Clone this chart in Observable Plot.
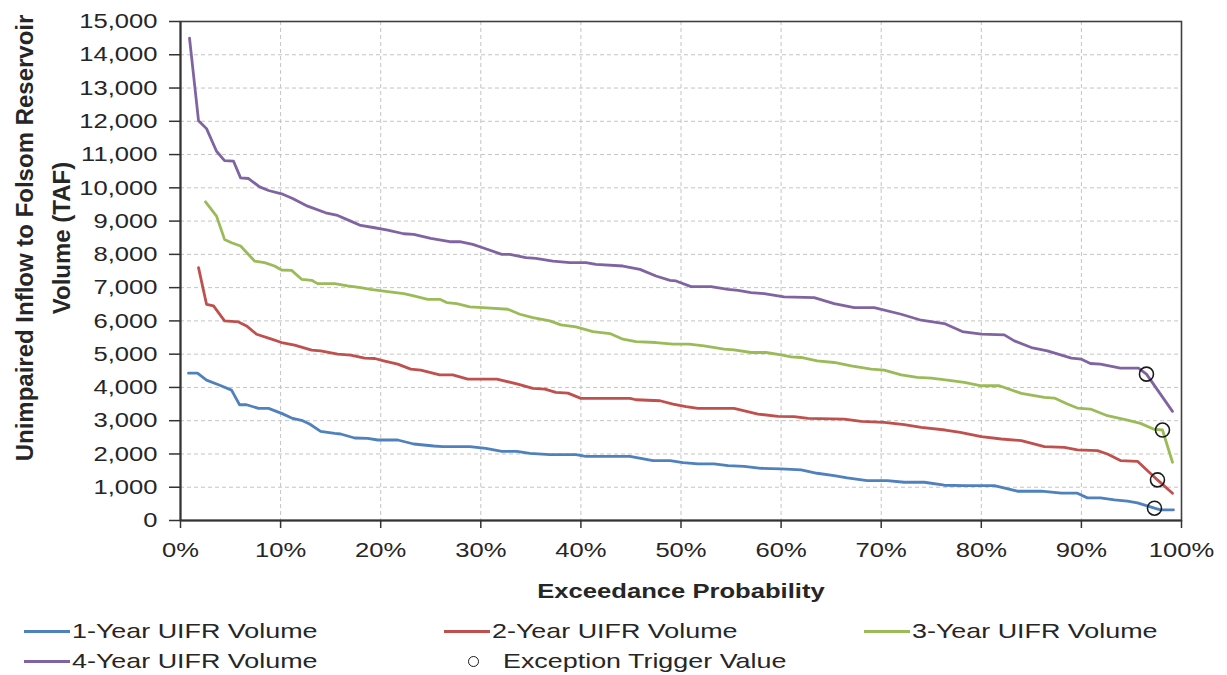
<!DOCTYPE html>
<html>
<head>
<meta charset="utf-8">
<script src="https://cdn.jsdelivr.net/npm/d3@7"></script>
<script src="https://cdn.jsdelivr.net/npm/@observablehq/plot@0.6"></script>
<style>
  body { margin: 0; background: #fff; font-family: "Liberation Sans", Arial, sans-serif; color: #262626; }
  #chart { position: relative; width: 1227px; height: 675px; }
  .legend-item { position: absolute; display: flex; align-items: center; height: 24px; white-space: nowrap; }
  .legend-item .sw { display: inline-block; width: 46px; height: 3px; margin-right: 2px; }
  .legend-item .ring { display: inline-block; width: 9px; height: 9px; border: 1.4px solid #1a1a1a; border-radius: 50%; margin-right: 24px; }
  .legend-item .lab { display: inline-block; font-size: 21px; line-height: 24px; transform: scaleX(1.28); transform-origin: left center; }
</style>
</head>
<body>
<div id="chart"></div>
<script>
// Series labels and colours
const seriesNames = ["1-Year UIFR Volume", "2-Year UIFR Volume", "3-Year UIFR Volume", "4-Year UIFR Volume"];
const seriesColors = ["#4F81BD", "#C0504D", "#9BBB59", "#8064A2"];
const triggerName = "Exception Trigger Value";

// Exceedance probability (%) and volume (TAF) for each series
const oneYearP = [0.8, 1.7, 2.6, 3.8, 5.1, 5.9, 6.6, 7.8, 8.8, 10.1, 11.1, 12.2, 12.9, 14.0, 15.4, 16.0, 17.4, 18.7, 19.7, 21.7, 23.3, 25.3, 26.2, 28.9, 30.5, 32.1, 33.6, 34.9, 36.9, 39.5, 40.5, 44.9, 47.2, 48.9, 50.2, 51.7, 53.3, 54.7, 56.3, 58.0, 60.0, 62.0, 63.6, 65.3, 66.6, 68.6, 70.6, 72.3, 74.3, 76.3, 78.3, 81.3, 83.6, 86.0, 88.0, 89.6, 90.6, 91.9, 93.3, 94.6, 95.6, 97.3, 97.9, 99.2];
const oneYearV = [4430, 4430, 4220, 4080, 3920, 3480, 3480, 3370, 3370, 3220, 3080, 3000, 2900, 2680, 2620, 2600, 2480, 2470, 2420, 2420, 2300, 2240, 2220, 2220, 2170, 2080, 2080, 2020, 1980, 1980, 1930, 1930, 1800, 1800, 1740, 1700, 1700, 1650, 1630, 1570, 1550, 1520, 1420, 1350, 1280, 1200, 1200, 1150, 1150, 1060, 1050, 1050, 880, 880, 820, 820, 680, 680, 620, 580, 530, 370, 320, 320];

const twoYearP = [1.8, 2.6, 3.3, 4.4, 5.8, 6.6, 7.6, 9.1, 10.1, 11.4, 13.1, 14.0, 15.7, 17.0, 18.4, 19.4, 20.3, 21.7, 23.0, 24.0, 25.9, 27.2, 28.7, 31.6, 33.7, 35.2, 36.4, 37.5, 38.7, 40.0, 44.9, 45.5, 47.9, 49.2, 50.5, 51.7, 55.3, 57.7, 59.7, 61.3, 62.7, 66.3, 68.0, 70.3, 72.3, 74.0, 76.4, 77.9, 80.0, 82.0, 84.0, 86.3, 88.3, 89.6, 91.6, 92.6, 93.9, 95.6, 97.6, 99.1];
const twoYearV = [7600, 6500, 6450, 6000, 5970, 5850, 5600, 5450, 5350, 5270, 5120, 5100, 5000, 4970, 4880, 4870, 4800, 4700, 4550, 4520, 4380, 4380, 4250, 4250, 4100, 3970, 3950, 3850, 3830, 3670, 3670, 3630, 3600, 3500, 3420, 3370, 3370, 3200, 3130, 3120, 3070, 3050, 2980, 2950, 2880, 2800, 2720, 2650, 2520, 2450, 2400, 2220, 2200, 2120, 2100, 2000, 1800, 1780, 1220, 820];

const threeYearP = [2.5, 3.6, 4.4, 5.1, 6.0, 7.4, 8.4, 9.4, 10.1, 11.1, 12.1, 13.1, 13.7, 15.4, 16.7, 18.0, 19.0, 20.7, 22.3, 23.3, 24.7, 25.9, 26.6, 27.6, 28.9, 30.2, 32.7, 33.9, 35.2, 36.9, 38.0, 39.5, 41.2, 42.9, 44.2, 45.5, 47.5, 49.2, 50.8, 52.3, 54.3, 55.3, 57.0, 58.5, 60.0, 61.0, 62.0, 63.6, 65.3, 67.0, 69.0, 70.3, 72.0, 73.6, 75.0, 76.6, 78.3, 80.0, 81.8, 84.0, 86.3, 87.3, 88.6, 89.6, 90.9, 92.6, 94.6, 95.9, 97.2, 98.1, 99.1];
const threeYearV = [9580, 9150, 8450, 8350, 8250, 7800, 7750, 7650, 7530, 7520, 7250, 7220, 7120, 7120, 7050, 7000, 6950, 6880, 6820, 6750, 6650, 6650, 6550, 6520, 6420, 6400, 6350, 6200, 6100, 6000, 5880, 5820, 5680, 5620, 5450, 5380, 5350, 5300, 5300, 5250, 5150, 5130, 5050, 5050, 4980, 4920, 4900, 4800, 4750, 4650, 4550, 4520, 4380, 4300, 4280, 4220, 4150, 4050, 4050, 3820, 3700, 3680, 3500, 3380, 3350, 3150, 3020, 2920, 2750, 2720, 1750];

const fourYearP = [0.9, 1.8, 2.6, 3.6, 4.4, 5.3, 6.0, 6.8, 7.9, 8.8, 10.1, 11.2, 12.7, 14.5, 15.7, 17.0, 18.0, 19.4, 20.7, 22.3, 23.3, 25.0, 26.9, 27.9, 29.2, 30.2, 32.1, 32.9, 34.5, 35.5, 37.2, 38.9, 40.5, 41.5, 44.2, 45.9, 47.5, 48.9, 49.5, 51.0, 53.0, 54.7, 55.7, 57.0, 58.3, 60.3, 63.3, 65.3, 67.3, 69.3, 72.0, 74.0, 76.3, 78.1, 80.0, 82.3, 83.3, 85.0, 86.6, 89.0, 90.0, 90.9, 91.9, 93.9, 95.7, 96.5, 99.1];
const fourYearV = [14500, 12020, 11780, 11100, 10820, 10800, 10300, 10280, 10030, 9920, 9820, 9680, 9450, 9250, 9170, 9000, 8870, 8800, 8730, 8620, 8600, 8480, 8380, 8380, 8300, 8200, 8000, 8000, 7900, 7880, 7800, 7750, 7750, 7700, 7650, 7550, 7350, 7220, 7200, 7030, 7030, 6950, 6920, 6850, 6820, 6720, 6700, 6520, 6400, 6400, 6200, 6020, 5920, 5680, 5600, 5580, 5400, 5200, 5100, 4880, 4850, 4720, 4700, 4580, 4580, 4400, 3280];

// Exception trigger value for each series
const triggerP = [97.3, 97.6, 98.1, 96.5];
const triggerV = [370, 1220, 2720, 4400];

// Axis ticks and titles
const xTicks = [0, 10, 20, 30, 40, 50, 60, 70, 80, 90, 100];
const yTicks = [0, 1000, 2000, 3000, 4000, 5000, 6000, 7000, 8000, 9000, 10000, 11000, 12000, 13000, 14000, 15000];
const xTitle = "Exceedance Probability";
const yTitle = "Unimpaired Inflow to Folsom Reservoir\nVolume (TAF)";

const seriesP = [oneYearP, twoYearP, threeYearP, fourYearP];
const seriesV = [oneYearV, twoYearV, threeYearV, fourYearV];
const rows = seriesNames.flatMap((name, k) =>
  seriesP[k].map((p, i) => ({series: name, p, v: seriesV[k][i]})));
const triggers = triggerP.map((p, i) => ({series: seriesNames[i], p, v: triggerV[i]}));

const FONT = "'Liberation Sans', Arial, sans-serif";
const WIDEN = 1.22; // horizontal stretch applied to upright labels

const svg = Plot.plot({
  width: 1227,
  height: 605,
  marginLeft: 180,
  marginRight: 46,
  marginTop: 21,
  marginBottom: 85,
  style: {fontFamily: FONT, fontSize: "21px", color: "#262626", background: "white"},
  x: {domain: [0, 100]},
  y: {domain: [0, 15000]},
  color: {domain: seriesNames, range: seriesColors},
  marks: [
    Plot.gridX(xTicks, {stroke: "#c4c4c4", strokeOpacity: 1, strokeDasharray: "4,3"}),
    Plot.gridY(yTicks, {stroke: "#c4c4c4", strokeOpacity: 1, strokeDasharray: "4,3"}),
    Plot.line(rows, {x: "p", y: "v", z: "series", stroke: "series", strokeWidth: 2.8}),
    Plot.dot(triggers, {x: "p", y: "v", r: 7, stroke: "#1a1a1a", strokeWidth: 1.6, fill: "none"}),
    Plot.frame({stroke: "#404040", strokeWidth: 1.6}),
    Plot.ruleX([0], {stroke: "#333", strokeWidth: 2}),
    Plot.ruleY([0], {stroke: "#333", strokeWidth: 2}),
    Plot.axisY(yTicks, {tickFormat: d3.format(","), tickSize: 11, tickPadding: 12, fontSize: 21, label: null, stroke: "#333", strokeWidth: 1.5}),
    Plot.axisX(xTicks, {tickFormat: (d) => d + "%", tickSize: 8, tickPadding: 14, fontSize: 21, label: null, stroke: "#333", strokeWidth: 1.5}),
    Plot.text([xTitle], {frameAnchor: "bottom", dy: 71, lineAnchor: "middle", textAnchor: "middle", fontWeight: "bold", fontSize: 21}),
    Plot.text([yTitle], {frameAnchor: "left", dx: -141, dy: -33, rotate: -90, textAnchor: "middle", lineAnchor: "middle", fontWeight: "bold", fontSize: 24, lineHeight: 1.55})
  ]
});

// Widen upright labels about their anchor points
for (const t of svg.querySelectorAll("text")) {
  const tr = t.getAttribute("transform") || "";
  if (tr.includes("rotate")) continue;
  const x = +t.getAttribute("x") || 0, y = +t.getAttribute("y") || 0;
  t.setAttribute("transform", `${tr} translate(${x},${y}) scale(${WIDEN},1) translate(${-x},${-y})`);
}

const chart = document.getElementById("chart");
chart.appendChild(svg);

// Legend below the plot
const legendItems = [
  {kind: "line", label: seriesNames[0], color: seriesColors[0], left: 24, top: 619},
  {kind: "line", label: seriesNames[1], color: seriesColors[1], left: 444, top: 619},
  {kind: "line", label: seriesNames[2], color: seriesColors[2], left: 864, top: 619},
  {kind: "line", label: seriesNames[3], color: seriesColors[3], left: 24, top: 649},
  {kind: "ring", label: triggerName, left: 468, top: 649}
];
for (const item of legendItems) {
  const div = document.createElement("div");
  div.className = "legend-item";
  div.style.left = item.left + "px";
  div.style.top = item.top + "px";
  const mark = document.createElement("span");
  if (item.kind === "line") {
    mark.className = "sw";
    mark.style.background = item.color;
  } else {
    mark.className = "ring";
  }
  const lab = document.createElement("span");
  lab.className = "lab";
  lab.textContent = item.label;
  div.appendChild(mark);
  div.appendChild(lab);
  chart.appendChild(div);
}
</script>
</body>
</html>
